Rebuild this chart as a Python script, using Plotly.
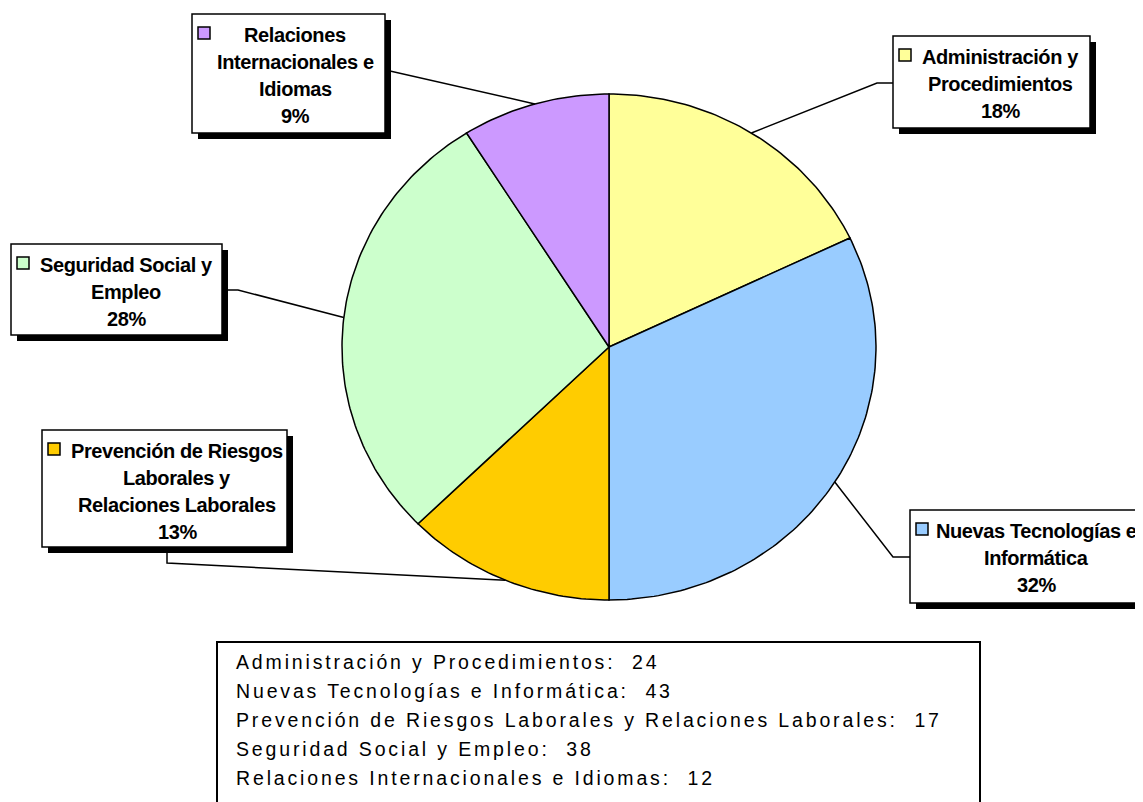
import numpy as np
import plotly.graph_objects as go

# data
categories = ["Administración y Procedimientos",
              "Nuevas Tecnologías e Informática",
              "Prevención de Riesgos Laborales y Relaciones Laborales",
              "Seguridad Social y Empleo",
              "Relaciones Internacionales e Idiomas"]
values = [24, 43, 17, 38, 12]
colors = ["#FFFF99", "#99CCFF", "#FFCC00", "#CCFFCC", "#CC99FF"]
# how each data label is wrapped inside its box
label_lines = [["Administración y", "Procedimientos"],
               ["Nuevas Tecnologías e", "Informática"],
               ["Prevención de Riesgos", "Laborales y", "Relaciones Laborales"],
               ["Seguridad Social y", "Empleo"],
               ["Relaciones", "Internacionales e", "Idiomas"]]

# layout of the label boxes (pixels): box, text centre x, leader attach point, elbow
boxes = [
    dict(box=(893, 36, 1090, 128), cx=1000, attach=(893, 83), elbow=(877, 83)),
    dict(box=(910, 510, 1160, 603), cx=1036, attach=(910, 557), elbow=(893, 557)),
    dict(box=(42, 430, 287, 547), cx=177, attach=(167, 547), elbow=(167, 563)),
    dict(box=(11, 244, 222, 335), cx=126, attach=(222, 290), elbow=(238, 290)),
    dict(box=(192, 14, 385, 133), cx=295, attach=(385, 71), elbow=(390, 71)),
]

W, H = 1143, 802
OFF = 8  # page body margin, so data coords equal screen pixels
pc_x, pc_y, rx, ry = 609, 347, 267, 253
SHADOW = 6
label_font = dict(family="Liberation Sans, Arial", size=20, color="black", weight="bold")
table_font = dict(family="Liberation Sans, Arial", size=19.5, color="black")

total = sum(values)
fracs = np.array(values) / total
starts = np.concatenate([[0], np.cumsum(fracs)[:-1]]) * 2 * np.pi
ends = np.cumsum(fracs) * 2 * np.pi

fig = go.Figure()

# pie slices, clockwise from 12 o'clock
for a0, a1, col in zip(starts, ends, colors):
    t = np.linspace(a0, a1, max(int((a1 - a0) * 60), 8))
    xs = np.concatenate([[pc_x], pc_x + rx * np.sin(t), [pc_x]])
    ys = np.concatenate([[pc_y], pc_y - ry * np.cos(t), [pc_y]])
    fig.add_trace(go.Scatter(x=xs, y=ys, mode="lines", fill="toself", fillcolor=col,
                             line=dict(color="black", width=1.5), hoverinfo="skip"))

shapes = []
annotations = []
for i, b in enumerate(boxes):
    mid = (starts[i] + ends[i]) / 2
    px_, py_ = pc_x + rx * np.sin(mid), pc_y - ry * np.cos(mid)
    ax, ay = b["attach"]
    ex, ey = b["elbow"]
    shapes.append(dict(type="path", path=f"M {ax},{ay} L {ex},{ey} L {px_:.1f},{py_:.1f}",
                       line=dict(color="black", width=1.5)))
    x0, y0, x1, y1 = b["box"]
    shapes.append(dict(type="rect", x0=x0 + SHADOW, y0=y0 + SHADOW, x1=x1 + SHADOW, y1=y1 + SHADOW,
                       fillcolor="black", line=dict(width=0)))
    shapes.append(dict(type="rect", x0=x0, y0=y0, x1=x1, y1=y1,
                       fillcolor="white", line=dict(color="black", width=1.5)))
    shapes.append(dict(type="rect", x0=x0 + 6, y0=y0 + 13, x1=x0 + 18, y1=y0 + 25,
                       fillcolor=colors[i], line=dict(color="black", width=1.5)))
    pct = f"{round(values[i] / total * 100)}%"
    for j, line in enumerate(label_lines[i] + [pct]):
        annotations.append(dict(x=b["cx"], y=y0 + 21 + 27 * j, showarrow=False,
                                text=f'<span style="letter-spacing:-0.4px">{line}</span>',
                                xanchor="center", yanchor="middle", font=label_font))

# data table box at the bottom
shapes.append(dict(type="rect", x0=217, y0=642, x1=980, y1=812,
                   fillcolor="rgba(0,0,0,0)", line=dict(color="black", width=2)))
for j, (cat, val) in enumerate(zip(categories, values)):
    annotations.append(dict(x=234, y=662 + 29 * j, showarrow=False, xanchor="left", yanchor="middle",
                            text=f'<span style="letter-spacing:2.85px">{cat}:\u00a0\u00a0{val}</span>',
                            font=table_font))

fig.update_layout(
    width=W, height=H, margin=dict(l=0, r=0, t=0, b=0),
    paper_bgcolor="white", plot_bgcolor="white", showlegend=False,
    xaxis=dict(range=[OFF, W + OFF], visible=False, fixedrange=True),
    yaxis=dict(range=[H + OFF, OFF], visible=False, fixedrange=True),
    shapes=shapes, annotations=annotations,
)

fig.write_html("out.html")
